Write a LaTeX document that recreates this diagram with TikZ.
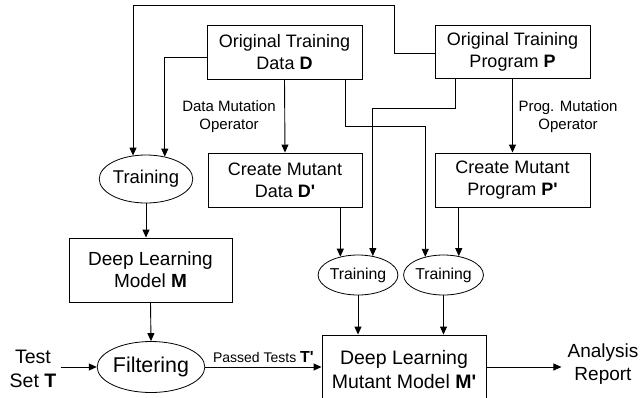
\documentclass[tikz,border=0pt]{standalone}
\usepackage{fontspec}
\setmainfont{Liberation Sans}
\usetikzlibrary{arrows.meta,shapes.geometric}
\newcommand{\pr}{\textquotesingle}
\begin{document}
\begin{tikzpicture}[x=1pt,y=-1pt,
  box/.style={draw=black,line width=0.9pt,inner sep=0pt,align=center,font=\fontsize{18}{22}\selectfont},
  ell/.style={draw=black,line width=0.8pt,ellipse,inner sep=0pt,align=center},
  arr/.style={draw=black,line width=0.9pt,-{Triangle[length=8pt,width=7pt]}},
  lbl/.style={align=center,inner sep=0pt,font=\fontsize{15}{18}\selectfont},
  big/.style={align=center,inner sep=0pt,font=\fontsize{19.5}{24}\selectfont}]
\useasboundingbox (0,0) rectangle (644,397);
\clip (0,0) rectangle (644,397);
% boxes
\node[box,minimum width=155pt,minimum height=54pt] (D) at (284.5,52) {Original Training\\Data \textbf{D}};
\node[box,minimum width=155pt,minimum height=53pt] (P) at (512.5,51.5) {Original Training\\Program \textbf{P}};
\node[box,minimum width=154pt,minimum height=54pt] (MD) at (285,180) {Create Mutant\\Data \textbf{D\pr}};
\node[box,minimum width=155pt,minimum height=54pt] (MP) at (512.5,180) {Create Mutant\\Program \textbf{P\pr}};
\node[box,minimum width=163pt,minimum height=64pt,font=\fontsize{19}{22}\selectfont] (M) at (150.5,270) {Deep Learning\\Model \textbf{M}};
\node[box,minimum width=164pt,minimum height=70pt,font=\fontsize{19.5}{24}\selectfont] (Mp) at (404,370) {Deep Learning\\Mutant Model \textbf{M\pr}};
% ellipses
\node[ell,minimum width=92pt,minimum height=48pt,font=\fontsize{18.5}{22}\selectfont] (tr) at (146,179) {Training};
\node[ell,minimum width=68pt,minimum height=40pt,font=\fontsize{15.8}{19}\selectfont] (t1) at (358,275) {Training};
\node[ell,minimum width=67pt,minimum height=40pt,font=\fontsize{15.8}{19}\selectfont] (t2) at (443.5,275) {Training};
\node[ell,minimum width=92pt,minimum height=51pt,font=\fontsize{21.4}{24}\selectfont] (fil) at (151,367) {Filtering};
% free texts
\node[big,inner xsep=4pt] (test) at (33,369) {Test\\Set \textbf{T}};
\node[big,font=\fontsize{19}{23}\selectfont,inner xsep=6pt] (ana) at (603,364) {Analysis\\Report};
\node[lbl] (dmo) at (229,117) {Data Mutation\\Operator};
\node[lbl] (pmo) at (568,117) {Prog. Mutation\\Operator};
% connectors
\draw[arr] ([yshift=-1.5pt]P.west) -| (394,5) -| (tr.119.5);
\draw[arr] ([yshift=-5pt]D.west) -| (tr.50.8);
\draw[arr] (D.south) -- (MD.north);
\draw[arr] (P.south) -- (MP.north);
\draw[arr] ([xshift=60.5pt]D.south) -- ++(0,47) -| (t2.135.7);
\draw[arr] ([xshift=-57.5pt]P.south) -- ++(0,30) -| (t1.52.4);
\draw[arr] (MD.south -| t1.134.5) -- (t1.134.5);
\draw[arr] (MP.south -| t2.51.2) -- (t2.51.2);
\draw[arr] (tr.south) -- (M.north -| tr.south);
\draw[arr] (M.south) -- (fil.north);
\draw[arr] (t1.south) -- (t1.south |- Mp.north);
\draw[arr] (t2.south) -- (t2.south |- Mp.north);
\draw[arr] (test.east |- fil.west) -- (fil.west);
\draw[arr] (fil.east) -- (fil.east -| Mp.west) node[midway,above=4pt,inner sep=0pt,font=\fontsize{14}{16}\selectfont] {Passed Tests \textbf{\fontsize{16}{16}\selectfont T\pr}};
\draw[arr] (Mp.east |- fil.east) -- (ana.west |- fil.east);
\end{tikzpicture}
\end{document}
